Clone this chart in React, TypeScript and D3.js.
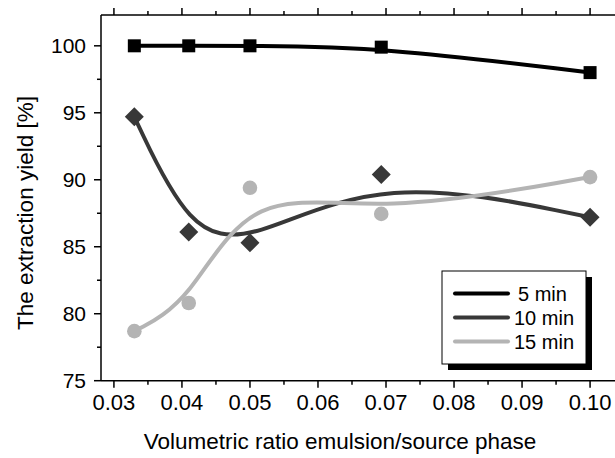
import React, { useEffect, useRef } from "react";
import * as d3 from "d3";

// volumetric ratio emulsion / source phase
const ratios = [0.033, 0.041, 0.05, 0.0693, 0.1];

// extraction yield [%] per contact time
const yield5 = [100, 100, 100, 99.9, 98.0];
const yield10 = [94.7, 86.1, 85.3, 90.4, 87.2];
const yield15 = [78.7, 80.8, 89.4, 87.45, 90.2];

const seriesNames = ["5 min", "10 min", "15 min"];
const seriesColours = ["#000000", "#383838", "#b4b4b4"];
const seriesMarkers = ["square", "diamond", "circle"];

const xTicks = [0.03, 0.04, 0.05, 0.06, 0.07, 0.08, 0.09, 0.1];
const yTicks = [75, 80, 85, 90, 95, 100];

const WIDTH = 615;
const HEIGHT = 458;
const FONT = "Arial, 'Liberation Sans', sans-serif";

const DrawMarker = (g, type, cx, cy, colour) => {
  if (type === "square") {
    g.append("rect")
      .attr("x", cx - 6.5)
      .attr("y", cy - 6.5)
      .attr("width", 13)
      .attr("height", 13)
      .attr("fill", colour);
  } else if (type === "diamond") {
    g.append("path")
      .attr("d", `M${cx},${cy - 9.5}L${cx + 9.5},${cy}L${cx},${cy + 9.5}L${cx - 9.5},${cy}Z`)
      .attr("fill", colour);
  } else {
    g.append("circle")
      .attr("cx", cx)
      .attr("cy", cy)
      .attr("r", 7.3)
      .attr("fill", colour);
  }
};

const App = () => {
  const svgRef = useRef(null);

  useEffect(() => {
    const svg = d3.select(svgRef.current);
    svg.selectAll("*").remove();

    const x = d3.scaleLinear().domain([0.0281, 0.1044]).range([101, 620]);
    const y = d3.scaleLinear().domain([75, 102.3]).range([380.7, 15]);

    const minorX = d3.range(0.03, 0.1051, 0.005).filter(v => v <= 0.1044);
    const minorY = d3.range(75, 102.3, 2.5);

    // axes: left, bottom, top
    const axes = svg.append("g").attr("stroke", "#000").attr("stroke-width", 1.5);
    axes.append("line").attr("x1", x(0.0281)).attr("x2", x(0.0281)).attr("y1", y(75)).attr("y2", y(102.3));
    axes.append("line").attr("x1", x(0.0281)).attr("x2", WIDTH).attr("y1", y(75)).attr("y2", y(75));
    axes.append("line").attr("x1", x(0.0281)).attr("x2", WIDTH).attr("y1", y(102.3)).attr("y2", y(102.3));

    minorX.forEach(v => {
      const major = xTicks.some(t => Math.abs(t - v) < 1e-6);
      const len = major ? 7 : 4;
      axes.append("line").attr("x1", x(v)).attr("x2", x(v)).attr("y1", y(75)).attr("y2", y(75) + len);
      axes.append("line").attr("x1", x(v)).attr("x2", x(v)).attr("y1", y(102.3)).attr("y2", y(102.3) - len);
    });
    minorY.forEach(v => {
      const major = yTicks.includes(v);
      const len = major ? 7 : 4;
      axes.append("line").attr("x1", x(0.0281) - len).attr("x2", x(0.0281)).attr("y1", y(v)).attr("y2", y(v));
    });

    // tick labels
    svg.append("g")
      .selectAll("text")
      .data(xTicks)
      .join("text")
      .attr("x", d => x(d))
      .attr("y", y(75) + 29)
      .attr("text-anchor", "middle")
      .attr("font-family", FONT)
      .attr("font-size", 22)
      .text(d => d.toFixed(2));

    svg.append("g")
      .selectAll("text")
      .data(yTicks)
      .join("text")
      .attr("x", x(0.0281) - 15)
      .attr("y", d => y(d))
      .attr("dy", "0.36em")
      .attr("text-anchor", "end")
      .attr("font-family", FONT)
      .attr("font-size", 21)
      .text(d => d);

    // axis titles
    svg.append("text")
      .attr("x", 340)
      .attr("y", 449)
      .attr("text-anchor", "middle")
      .attr("font-family", FONT)
      .attr("font-size", 22.5)
      .text("Volumetric ratio emulsion/source phase");

    svg.append("text")
      .attr("transform", `translate(33,213) rotate(-90)`)
      .attr("text-anchor", "middle")
      .attr("font-family", FONT)
      .attr("font-size", 22.5)
      .text("The extraction yield [%]");

    // B-spline lines with the data as control points
    const allSeries = [yield5, yield10, yield15];
    const line = d3.line().x(d => x(d[0])).y(d => y(d[1])).curve(d3.curveBasis);

    allSeries.forEach((vals, i) => {
      const pts = ratios.map((r, j) => [r, vals[j]]);
      svg.append("path")
        .attr("d", line(pts))
        .attr("fill", "none")
        .attr("stroke", seriesColours[i])
        .attr("stroke-width", 4);
    });

    allSeries.forEach((vals, i) => {
      const g = svg.append("g");
      ratios.forEach((r, j) => DrawMarker(g, seriesMarkers[i], x(r), y(vals[j]), seriesColours[i]));
    });

    // legend with drop shadow
    const lg = svg.append("g").attr("transform", "translate(442,271)");
    lg.append("rect").attr("x", 6).attr("y", 6).attr("width", 144).attr("height", 93).attr("fill", "#000");
    lg.append("rect").attr("x", 0).attr("y", 0).attr("width", 144).attr("height", 93)
      .attr("fill", "#fff").attr("stroke", "#000").attr("stroke-width", 1);
    seriesNames.forEach((name, i) => {
      const rowY = 22.5 + i * 24;
      lg.append("line")
        .attr("x1", 13).attr("x2", 66)
        .attr("y1", rowY).attr("y2", rowY)
        .attr("stroke", seriesColours[i])
        .attr("stroke-width", 4)
        .attr("stroke-linecap", "round");
      lg.append("text")
        .attr("x", i === 0 ? 76 : 72)
        .attr("y", rowY)
        .attr("dy", "0.36em")
        .attr("font-family", FONT)
        .attr("font-size", 20)
        .text(name);
    });
  }, []);

  return (
    <svg
      ref={svgRef}
      width={WIDTH}
      height={HEIGHT}
      style={{ position: "absolute", left: 0, top: 0, background: "#fff" }}
    />
  );
};

export default App;
